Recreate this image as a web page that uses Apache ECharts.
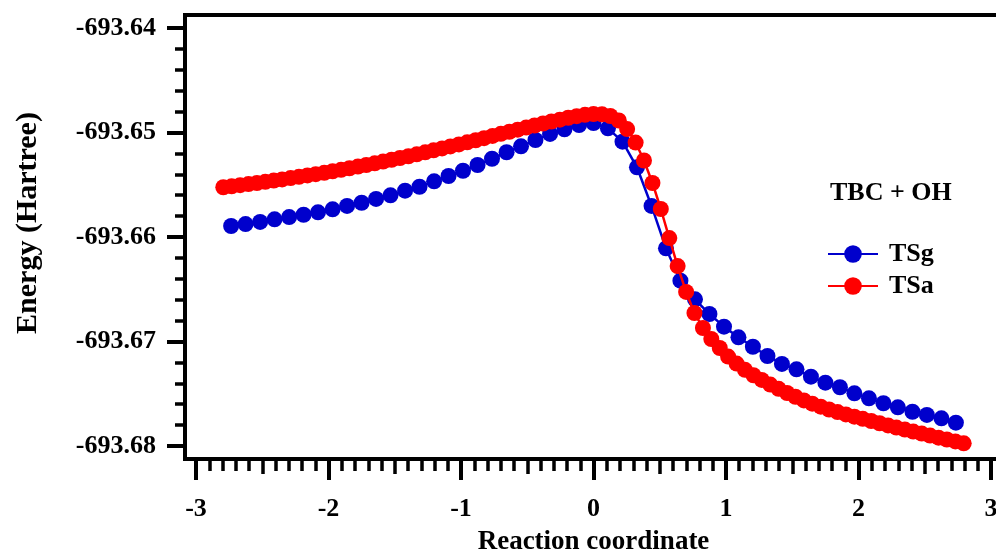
<!DOCTYPE html>
<html>
<head>
<meta charset="utf-8">
<script src="https://cdn.jsdelivr.net/npm/echarts@6/dist/echarts.min.js"></script>
<style>html,body{margin:0;padding:0;background:#fff}#c{width:996px;height:552px}</style>
</head>
<body>
<div id="c"></div>
<script>
// Reaction coordinate tick labels
const xTicks = [-3, -2, -1, 0, 1, 2, 3];
const yTicks = [-693.68, -693.67, -693.66, -693.65, -693.64];

// TSg series
const tsgX = [-2.735,-2.626,-2.516,-2.407,-2.297,-2.188,-2.079,-1.969,-1.860,-1.750,
  -1.641,-1.532,-1.422,-1.313,-1.203,-1.094,-0.985,-0.875,-0.766,-0.656,
  -0.547,-0.438,-0.328,-0.219,-0.109,0.000,0.109,0.219,0.328,0.438,
  0.547,0.656,0.766,0.875,0.985,1.094,1.203,1.313,1.422,1.532,
  1.641,1.750,1.860,1.969,2.079,2.188,2.297,2.407,2.516,2.626,2.735];
const tsgY = [-693.65895,-693.65876,-693.65856,-693.65831,-693.65809,-693.65787,-693.65764,-693.65735,-693.65703,-693.65672,
  -693.65636,-693.65601,-693.65557,-693.65519,-693.65467,-693.65416,-693.65366,-693.65311,-693.65251,-693.65189,
  -693.65132,-693.65072,-693.65014,-693.64969,-693.64928,-693.64909,-693.64960,-693.65088,-693.65333,-693.65703,
  -693.66108,-693.66418,-693.66596,-693.66737,-693.66858,-693.66960,-693.67050,-693.67139,-693.67215,-693.67266,
  -693.67337,-693.67394,-693.67438,-693.67496,-693.67544,-693.67591,-693.67630,-693.67672,-693.67703,-693.67735,-693.67777];

// TSa series
const tsaX = [-2.794,-2.731,-2.667,-2.604,-2.540,-2.477,-2.413,-2.350,-2.286,-2.223,
  -2.159,-2.096,-2.032,-1.969,-1.905,-1.842,-1.778,-1.715,-1.651,-1.588,
  -1.524,-1.461,-1.397,-1.334,-1.270,-1.207,-1.143,-1.080,-1.016,-0.953,
  -0.889,-0.826,-0.762,-0.699,-0.635,-0.572,-0.508,-0.445,-0.381,-0.318,
  -0.254,-0.191,-0.127,-0.064,0.000,0.064,0.127,0.191,0.254,0.318,
  0.381,0.445,0.508,0.572,0.635,0.699,0.762,0.826,0.889,0.953,
  1.016,1.080,1.143,1.207,1.270,1.334,1.397,1.461,1.524,1.588,
  1.651,1.715,1.778,1.842,1.905,1.969,2.032,2.096,2.159,2.223,
  2.286,2.350,2.413,2.477,2.540,2.604,2.667,2.731,2.794];
const tsaY = [-693.65524,-693.65515,-693.65504,-693.65494,-693.65483,-693.65472,-693.65460,-693.65449,-693.65436,-693.65424,
  -693.65411,-693.65399,-693.65386,-693.65371,-693.65357,-693.65342,-693.65326,-693.65311,-693.65295,-693.65278,
  -693.65261,-693.65244,-693.65227,-693.65209,-693.65190,-693.65171,-693.65152,-693.65133,-693.65114,-693.65094,
  -693.65074,-693.65054,-693.65033,-693.65013,-693.64993,-693.64973,-693.64953,-693.64933,-693.64914,-693.64895,
  -693.64877,-693.64859,-693.64844,-693.64831,-693.64823,-693.64826,-693.64842,-693.64885,-693.64967,-693.65096,
  -693.65268,-693.65483,-693.65732,-693.66010,-693.66278,-693.66526,-693.66727,-693.66871,-693.66976,-693.67062,
  -693.67144,-693.67211,-693.67271,-693.67323,-693.67368,-693.67412,-693.67453,-693.67493,-693.67529,-693.67564,
  -693.67595,-693.67624,-693.67651,-693.67675,-693.67698,-693.67719,-693.67740,-693.67761,-693.67782,-693.67803,
  -693.67824,-693.67843,-693.67862,-693.67881,-693.67900,-693.67920,-693.67938,-693.67956,-693.67974];

const seriesNames = ['TSg', 'TSa'];
const legendTitle = 'TBC + OH';

const FONT = "'Liberation Serif', 'Times New Roman', serif";
const zip = (xs, ys) => xs.map((x, i) => [x, ys[i]]);

const chart = echarts.init(document.getElementById('c'), null, {renderer: 'canvas'});
chart.setOption({
  animation: false,
  backgroundColor: '#fff',
  title: {
    text: legendTitle, left: 830, top: 180, padding: 0,
    textStyle: {fontFamily: FONT, fontWeight: 'bold', fontSize: 26, color: '#000'}
  },
  legend: {
    orient: 'vertical', left: 827, top: 241, padding: 0,
    itemWidth: 50, itemHeight: 22, itemGap: 6,
    textStyle: {fontFamily: FONT, fontWeight: 'bold', fontSize: 26, color: '#000', padding: [0, 0, 0, 6]},
    data: seriesNames
  },
  grid: {left: 196, right: 5, top: 28, bottom: 106, containLabel: false, outerBoundsMode: 'none'},
  xAxis: [{
    type: 'value', min: xTicks[0], max: xTicks[xTicks.length - 1], interval: 1,
    position: 'bottom', offset: 15,
    name: 'Reaction coordinate', nameLocation: 'middle', nameGap: 68,
    nameTextStyle: {fontFamily: FONT, fontWeight: 'bold', fontSize: 27, color: '#000'},
    axisLine: {show: false, onZero: false},
    axisTick: {show: true, inside: false, length: 19, lineStyle: {color: '#000', width: 4}},
    minorTick: {show: true, splitNumber: 10, length: 10, lineStyle: {color: '#000', width: 3.5}},
    splitLine: {show: false},
    axisLabel: {margin: 35, fontFamily: FONT, fontWeight: 'bold', fontSize: 26, color: '#000'}
  }, {
    type: 'value', min: xTicks[0], max: xTicks[xTicks.length - 1], interval: 0.5,
    position: 'bottom', offset: 15,
    axisLine: {show: false, onZero: false},
    axisTick: {show: true, inside: false, length: 13, lineStyle: {color: '#000', width: 3.5}},
    splitLine: {show: false},
    axisLabel: {show: false}
  }],
  yAxis: {
    type: 'value', min: yTicks[0], max: yTicks[yTicks.length - 1], interval: 0.01,
    position: 'left', offset: 11,
    name: 'Energy (Hartree)', nameLocation: 'middle', nameGap: 142, nameRotate: 90,
    nameTextStyle: {fontFamily: FONT, fontWeight: 'bold', fontSize: 30, color: '#000', padding: [0, 0, 0, 28]},
    axisLine: {show: false, onZero: false},
    axisTick: {show: true, inside: false, length: 18, lineStyle: {color: '#000', width: 4}},
    minorTick: {show: true, splitNumber: 5, length: 10, lineStyle: {color: '#000', width: 3.5}},
    splitLine: {show: false},
    axisLabel: {margin: 29, fontFamily: FONT, fontWeight: 'bold', fontSize: 26, color: '#000',
      formatter: v => v.toFixed(2)}
  },
  graphic: [{
    type: 'polyline', silent: true, z: 10,
    shape: {points: [[1010, 15], [185, 15], [185, 459], [1010, 459]]},
    style: {stroke: '#000', lineWidth: 4, fill: null}
  }],
  series: [{
    name: seriesNames[0], type: 'line', data: zip(tsgX, tsgY),
    symbol: 'circle', symbolSize: 16, showAllSymbol: true,
    color: '#0000CC', lineStyle: {color: '#0000CC', width: 2.5},
    itemStyle: {color: '#0000CC'}, z: 2
  }, {
    name: seriesNames[1], type: 'line', data: zip(tsaX, tsaY),
    symbol: 'circle', symbolSize: 16, showAllSymbol: true,
    color: '#FF0000', lineStyle: {color: '#FF0000', width: 2.5},
    itemStyle: {color: '#FF0000'}, z: 3
  }]
});
</script>
</body>
</html>
